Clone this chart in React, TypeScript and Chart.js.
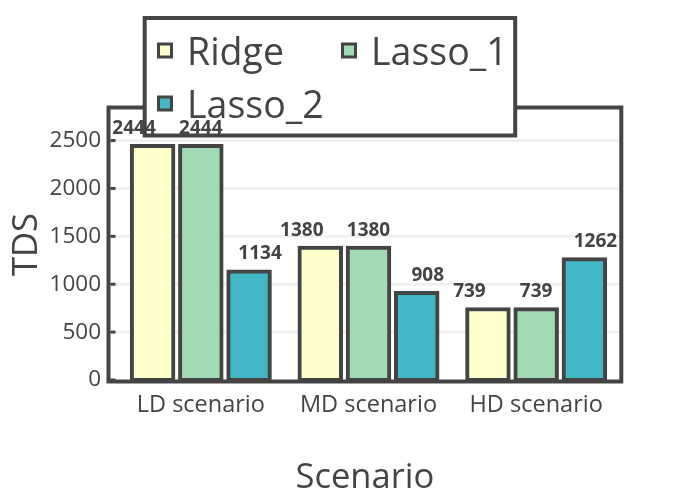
import React, { useEffect, useRef } from "react";
import { Chart, registerables } from "chart.js";

Chart.register(...registerables);

// ---- data ----
const categories = ["LD scenario", "MD scenario", "HD scenario"];
const seriesNames = ["Ridge", "Lasso_1", "Lasso_2"];
const ridgeValues = [2444, 1380, 739];
const lasso1Values = [2444, 1380, 739];
const lasso2Values = [1134, 908, 1262];
const yTickValues = [0, 500, 1000, 1500, 2000, 2500];
const yMax = 2840;
const xTitle = "Scenario";
const yTitle = "TDS";

// ---- styles ----
const seriesColors = ["#ffffcc", "#a1dab4", "#41b6c4"];
const labelShift = [-18.5, 0, 11];
const FONT = '"Open Sans", sans-serif';
const INK = "#444444";

const decorPlugin = {
  id: "decor",
  beforeDatasetsDraw(chart: any) {
    const { ctx, chartArea: a, scales } = chart;
    const L = a.left - 8.5;
    const R = a.right + 1.3;
    ctx.save();
    ctx.strokeStyle = "#eeeeee";
    ctx.lineWidth = 2.5;
    for (const v of yTickValues) {
      if (v === 0) continue;
      const y = scales.y.getPixelForValue(v);
      ctx.beginPath();
      ctx.moveTo(L, y);
      ctx.lineTo(R, y);
      ctx.stroke();
    }
    ctx.restore();
  },
  afterDatasetsDraw(chart: any) {
    const { ctx, chartArea: a, scales } = chart;
    const L = a.left - 8.5;
    const R = a.right + 1.3;
    const T = a.top - 0.5;
    const B = a.bottom + 1.5;
    ctx.save();
    // frame
    ctx.strokeStyle = INK;
    ctx.lineWidth = 4;
    ctx.strokeRect(L, T, R - L, B - T);
    // inward ticks
    ctx.fillStyle = INK;
    for (const v of yTickValues) {
      const y = scales.y.getPixelForValue(v);
      ctx.fillRect(L + 2, y - 1.5, 5, 3);
    }
    // axis titles
    ctx.fillStyle = INK;
    ctx.font = `34.5px ${FONT}`;
    ctx.textAlign = "center";
    ctx.textBaseline = "alphabetic";
    ctx.fillText(xTitle, (L + R) / 2, 488.3);
    ctx.save();
    ctx.translate(37, (T + B) / 2);
    ctx.rotate(-Math.PI / 2);
    ctx.fillText(yTitle, 0, 0);
    ctx.restore();

    // legend
    const bx = 144.7, by = 18, bw = 370.5, bh = 117.5;
    ctx.fillStyle = "#ffffff";
    ctx.fillRect(bx, by, bw, bh);
    ctx.strokeStyle = INK;
    ctx.lineWidth = 4;
    ctx.strokeRect(bx, by, bw, bh);
    const colX = [165, 349];
    const rowY = [50.5, 103.5];
    ctx.font = `37.5px ${FONT}`;
    ctx.textAlign = "left";
    chart.data.datasets.forEach((ds: any, i: number) => {
      const cx = colX[i % 2];
      const cy = rowY[Math.floor(i / 2)];
      ctx.fillStyle = ds.backgroundColor;
      ctx.fillRect(cx - 6.5, cy - 6.5, 13, 13);
      ctx.lineWidth = 3;
      ctx.strokeStyle = INK;
      ctx.strokeRect(cx - 6.5, cy - 6.5, 13, 13);
      ctx.fillStyle = INK;
      ctx.fillText(ds.label, cx + 22, cy + 14.5);
    });

    // data labels
    ctx.font = `bold 19px ${FONT}`;
    ctx.textAlign = "center";
    ctx.fillStyle = INK;
    chart.data.datasets.forEach((ds: any, i: number) => {
      const meta = chart.getDatasetMeta(i);
      meta.data.forEach((bar: any, j: number) => {
        ctx.fillText(String(ds.data[j]), bar.x + labelShift[i], bar.y - 12.3);
      });
    });
    ctx.restore();
  },
};

export default function App() {
  const ref = useRef<HTMLCanvasElement | null>(null);
  useEffect(() => {
    if (!ref.current) return;
    const seriesValues = [ridgeValues, lasso1Values, lasso2Values];
    const chart = new Chart(ref.current, {
      type: "bar",
      data: {
        labels: categories,
        datasets: seriesNames.map((name, i) => ({
          label: name,
          data: seriesValues[i],
          backgroundColor: seriesColors[i],
          borderColor: INK,
          borderWidth: 4,
          borderSkipped: false,
          inflateAmount: 2,
          categoryPercentage: 0.863,
          barPercentage: 0.86,
        })),
      },
      options: {
        responsive: false,
        animation: false,
        devicePixelRatio: 1,
        layout: { padding: { top: 108, right: 80, left: 0, bottom: 0 } },
        plugins: { legend: { display: false }, tooltip: { enabled: false } },
        scales: {
          x: {
            afterFit: (s: any) => {
              s.height = 120;
            },
            grid: { display: false, drawTicks: false },
            border: { display: false },
            ticks: { padding: 11, color: INK, font: { family: FONT, size: 23.5 } },
          },
          y: {
            min: 0,
            max: yMax,
            afterFit: (s: any) => {
              s.width = 117;
            },
            afterBuildTicks: (s: any) => {
              s.ticks = yTickValues.map((v) => ({ value: v }));
            },
            grid: { display: false, drawTicks: false },
            border: { display: false },
            ticks: {
              padding: 16,
              color: INK,
              font: { family: FONT, size: 22.5 },
              callback: (v: any) => String(v),
            },
          },
        },
      },
      plugins: [decorPlugin],
    });
    return () => chart.destroy();
  }, []);
  return (
    <div style={{ position: "absolute", left: 0, top: 0, width: 700, height: 500, background: "#fff" }}>
      <canvas ref={ref} width={700} height={500} />
    </div>
  );
}
